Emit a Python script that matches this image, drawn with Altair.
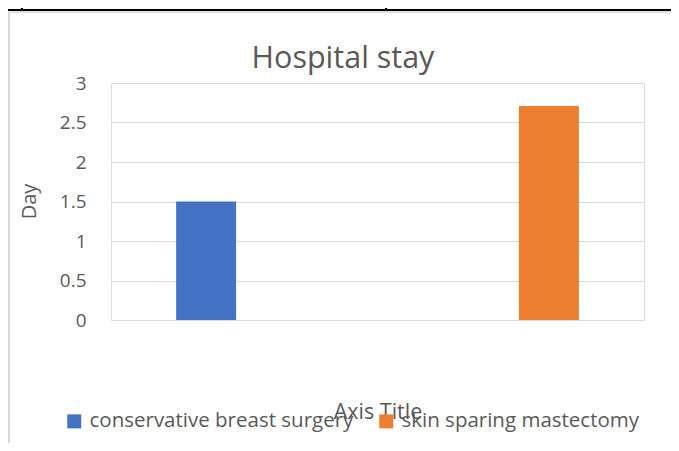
import altair as alt
import pandas as pd

series = ["conservative breast surgery", "skin sparing mastectomy"]
days = [1.5, 2.71]
colors = ["#4472C4", "#ED7D31"]
y_ticks = [0, 0.5, 1, 1.5, 2, 2.5, 3]

df = pd.DataFrame({"series": series, "day": days})

FONT = "Open Sans"
TXT = "#595959"

bars = alt.Chart(df).mark_bar().encode(
    x=alt.X(
        "series:N",
        sort=series,
        scale=alt.Scale(paddingInner=0.825, paddingOuter=0.19),
        axis=alt.Axis(
            title="Axis Title", labels=False, ticks=False, domain=False, grid=False,
            titleFont=FONT, titleFontSize=21.5, titleColor=TXT, titleFontWeight="normal",
            titleY=92, titleBaseline="middle",
        ),
    ),
    y=alt.Y(
        "day:Q",
        scale=alt.Scale(domain=[0, 3], nice=False),
        axis=alt.Axis(
            title="Day", values=y_ticks, format="~g", ticks=False, domain=False,
            grid=True, gridColor="#d9d9d9", gridWidth=1.2,
            labelFont=FONT, labelFontSize=19, labelColor=TXT, labelPadding=25,
            titleFont=FONT, titleFontSize=20, titleColor=TXT, titleFontWeight="normal",
            titleX=-82, titleY=118, titleAngle=270, titleAlign="center", titleBaseline="middle",
        ),
    ),
    color=alt.Color(
        "series:N",
        scale=alt.Scale(domain=series, range=colors),
        legend=alt.Legend(
            title=None, orient="none", legendX=-47, legendY=328, direction="horizontal",
            columns=2, symbolType="square", symbolSize=196, symbolStrokeWidth=0,
            labelFont=FONT, labelFontSize=20.5, labelColor=TXT, labelOffset=5,
            labelLimit=400, columnPadding=22,
        ),
    ),
)

one = alt.Data(values=[{"k": 0}])

# document / chart-area frame lines
table_line = alt.Chart(one).mark_rule(color="#000000", strokeWidth=2).encode(
    x=alt.value(-110), x2=alt.value(570), y=alt.value(-73)
)
table_v1 = alt.Chart(one).mark_rule(color="#000000", strokeWidth=2).encode(
    x=alt.value(-89), y=alt.value(-80), y2=alt.value(-73)
)
table_v2 = alt.Chart(one).mark_rule(color="#000000", strokeWidth=2).encode(
    x=alt.value(275), y=alt.value(-80), y2=alt.value(-73)
)
frame_left = alt.Chart(one).mark_rule(color="#d9d9d9", strokeWidth=2).encode(
    x=alt.value(-102), y=alt.value(-71), y2=alt.value(380)
)
frame_top = alt.Chart(one).mark_rule(color="#d9d9d9", strokeWidth=1.5).encode(
    x=alt.value(-102), x2=alt.value(570), y=alt.value(-71)
)

chart = alt.layer(frame_left, frame_top, table_line, table_v1, table_v2, bars).properties(
    width=533,
    height=237,
    padding={"left": 103, "top": 75, "right": 27, "bottom": 123},
    autosize=alt.AutoSizeParams(type="none"),
    title=alt.TitleParams(
        "Hospital stay", font=FONT, fontSize=30.5, color=TXT, fontWeight="normal",
        anchor="middle", frame="group", dx=-34.5, baseline="alphabetic", offset=0, dy=96,
    ),
).configure_view(stroke=None).configure(background="white")

chart.save("out.html", embed_options={"renderer": "svg", "actions": False})
